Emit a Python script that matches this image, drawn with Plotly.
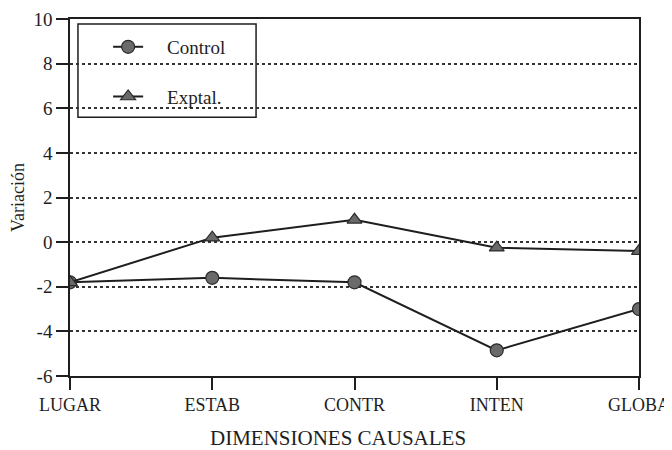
import plotly.graph_objects as go

# Data
dimensiones = ['LUGAR', 'ESTAB', 'CONTR', 'INTEN', 'GLOBA']
control = [-1.8, -1.6, -1.8, -4.85, -3.0]
exptal = [-1.8, 0.2, 1.0, -0.25, -0.4]
y_ticks = [-6, -4, -2, 0, 2, 4, 6, 8, 10]
y_labels = ['-6', '-4', '-2', '0', '2', '4', '6', '8', '10']

serif = 'Liberation Serif'
ink = '#1e1e1e'
pad = '\u00a0' * 4  # push legend text away from the symbol, like the scan

fig = go.Figure()
fig.add_trace(go.Scatter(x=dimensiones, y=control, name=pad + 'Control', mode='lines+markers',
                         legendgroup='c',
                         line=dict(color=ink, width=2),
                         marker=dict(symbol='circle', size=13, color='#6a6a6a',
                                     line=dict(color='#2a2a2a', width=1.2))))
fig.add_trace(go.Scatter(x=dimensiones, y=exptal, name=pad + 'Exptal.', mode='lines+markers',
                         legendgroup='e',
                         line=dict(color=ink, width=2),
                         marker=dict(symbol='triangle-up', size=13, color='#6a6a6a',
                                     line=dict(color='#2a2a2a', width=1.2))))

# legend frame (white box hiding the dotted grid behind it)
fig.add_shape(type='rect', xref='paper', yref='paper',
              x0=0.014, x1=0.327, y0=0.725, y1=0.986,
              line=dict(color=ink, width=1.5), fillcolor='white', layer='between')

# x title sits a little left of centre in the scan, so place it by hand
fig.add_annotation(text='DIMENSIONES CAUSALES', xref='paper', yref='paper',
                   x=0.471, y=-0.174, xanchor='center', yanchor='middle',
                   showarrow=False, font=dict(family=serif, size=21, color=ink))

# the page adds an 8px body margin, so the figure is a bit smaller than the window
fig.update_layout(
    width=664, height=442,
    margin=dict(l=62, r=33, t=11, b=74),
    paper_bgcolor='white', plot_bgcolor='white',
    font=dict(family=serif, size=19, color=ink),
    showlegend=True,
    legend=dict(x=0.067, y=0.975, xanchor='left', yanchor='top',
                bgcolor='rgba(0,0,0,0)', borderwidth=0,
                font=dict(family=serif, size=19), tracegroupgap=22),
)
fig.update_xaxes(
    type='category', range=[0, 4], automargin=False,
    showline=True, linecolor=ink, linewidth=1.5, mirror=True,
    ticks='outside', ticklen=12, tickwidth=1.5, tickcolor=ink,
    showgrid=False, tickfont=dict(family=serif, size=18),
)
fig.update_yaxes(
    range=[-6, 10], tickvals=y_ticks, ticktext=y_labels, automargin=False,
    showline=True, linecolor=ink, linewidth=1.5, mirror=True,
    ticks='outside', ticklen=12, tickwidth=1.5, tickcolor=ink,
    showgrid=True, gridcolor='#333333', griddash='dot', gridwidth=1.5,
    zeroline=False, tickfont=dict(family=serif, size=19),
    title=dict(text='Variación', font=dict(family=serif, size=18), standoff=6),
)

fig.write_html("out.html")
